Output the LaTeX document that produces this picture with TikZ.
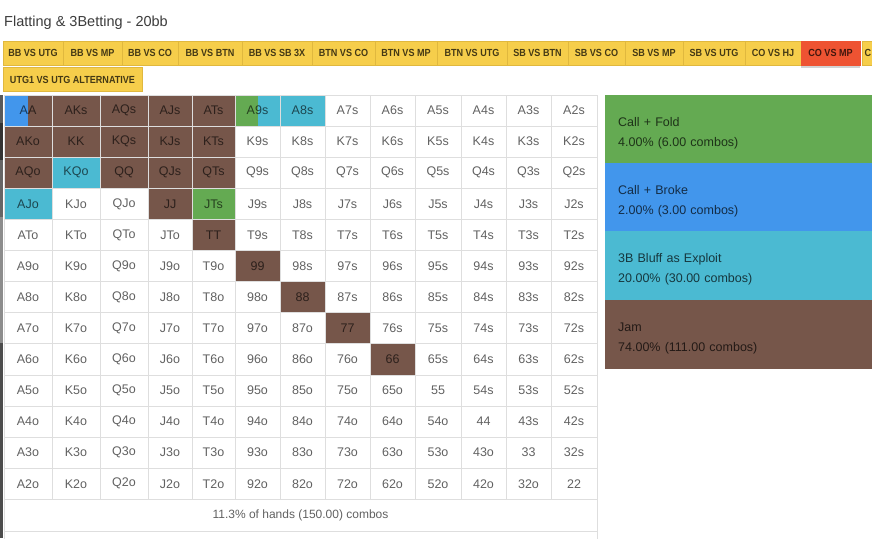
\documentclass[tikz,border=0pt]{standalone}
\usepackage{fontspec}
\setmainfont{Liberation Sans}
\newfontfamily\btnfont{Liberation Sans}[FakeStretch=0.88]
\usepackage{xcolor}
\usepackage{tikz}
\usetikzlibrary{shapes,shadows,calc,positioning}

\definecolor{btnYellow}{RGB}{246,206,75}
\definecolor{btnEdge}{RGB}{224,184,62}
\definecolor{btnRed}{RGB}{238,83,50}
\definecolor{jam}{RGB}{118,86,74}
\definecolor{callFold}{RGB}{100,170,82}
\definecolor{callBroke}{RGB}{66,150,236}
\definecolor{bluff}{RGB}{75,186,210}
\definecolor{gridLine}{RGB}{222,222,222}
\definecolor{titleGray}{RGB}{60,60,60}

\tikzset{
    cellbox/.style={draw=gridLine, line width=0.7pt, inner sep=0pt, outer sep=0pt,
                    text=black, text opacity=0.62, font=\fontsize{12.5}{14}\selectfont},
    btnbox/.style={fill=btnYellow, draw=btnEdge, line width=0.6pt, inner sep=0pt, outer sep=0pt,
                   minimum height=24pt, text=black, text opacity=0.72,
                   font=\btnfont\bfseries\fontsize{10.3}{12}\selectfont},
    legbox/.style={anchor=north west, minimum width=267pt, minimum height=68.5pt,
                   text width=241pt, inner xsep=13pt, inner ysep=0pt, align=left,
                   text=black, text opacity=0.7, font=\fontsize{12.5}{20}\selectfont}
}

\begin{document}
\begin{tikzpicture}[x=1pt, y=-1pt]
        \useasboundingbox (0,0) rectangle (872,538);
        \clip (0,0) rectangle (872,538);
        \fill[white] (0,0) rectangle (872,538);

        % Parameters
        \def\colx{{4,52,100,148,192,235,280,325,370,415,461,506,551,597}}  % column edges
        \def\rowh{31.1}       % height of a row
        \def\gridtop{95}      % top edge of the grid

        % Screen edge on the left
        \fill[black!65] (0,95) rectangle (2.7,123);
        \fill[black!80] (0,123) rectangle (2.7,160);
        \fill[black!60] (0,160) rectangle (2.7,217);
        \fill[black!45] (0,217) rectangle (2.7,343);
        \fill[black!70] (0,343) rectangle (2.7,538);

        % Title
        \node[anchor=base west, inner sep=0pt, text=titleGray,
              font=\fontsize{14.5}{17}\selectfont] (title) at (4,26) {Flatting \& 3Betting - 20bb};

        % Buttons, first row
        \foreach \xa/\xb/\txt [count=\n] in {3/63/BB VS UTG, 63/122/BB VS MP, 122/178/BB VS CO,
                178/242/BB VS BTN, 242/312/BB VS SB 3X, 312/375/BTN VS CO, 375/437/BTN VS MP,
                437/507/BTN VS UTG, 507/568/SB VS BTN, 568/625/SB VS CO, 625/683/SB VS MP,
                683/745/SB VS UTG, 745/801/CO VS HJ} {
            \pgfmathsetmacro{\w}{\xb-\xa}
            \node[btnbox, minimum width=\w pt] (btn\n) at ({(\xa+\xb)/2},53) {\txt};
        }
        \node[btnbox, minimum width=12pt] (btnNext) at (868,53) {C};
        \node[btnbox, fill=btnRed, draw=btnRed, minimum width=59pt,
              drop shadow={shadow xshift=0pt, shadow yshift=-3pt, opacity=0.35}] (btnCoMp) at (830.5,53) {CO VS MP};

        % Buttons, second row
        \node[btnbox, minimum width=139pt] (btnAlt) at (72.5,79.5) {UTG1 VS UTG ALTERNATIVE};

        % Coloured cells (row/column/colour/from/to)
        \foreach \ri/\ci/\col/\fa/\fb in {0/0/callBroke/0/0.5, 0/0/jam/0.5/1, 0/1/jam/0/1, 0/2/jam/0/1,
                0/3/jam/0/1, 0/4/jam/0/1, 0/5/callFold/0/0.5, 0/5/bluff/0.5/1, 0/6/bluff/0/1,
                1/0/jam/0/1, 1/1/jam/0/1, 1/2/jam/0/1, 1/3/jam/0/1, 1/4/jam/0/1,
                2/0/jam/0/1, 2/1/bluff/0/1, 2/2/jam/0/1, 2/3/jam/0/1, 2/4/jam/0/1,
                3/0/bluff/0/1, 3/3/jam/0/1, 3/4/callFold/0/1,
                4/4/jam/0/1, 5/5/jam/0/1, 6/6/jam/0/1, 7/7/jam/0/1, 8/8/jam/0/1} {
            \pgfmathsetmacro{\xl}{\colx[\ci]}
            \pgfmathsetmacro{\xr}{\colx[\ci+1]}
            \pgfmathsetmacro{\xa}{\xl+\fa*(\xr-\xl)}
            \pgfmathsetmacro{\xb}{\xl+\fb*(\xr-\xl)}
            \fill[\col] (\xa,{\gridtop+\ri*\rowh}) rectangle (\xb,{\gridtop+(\ri+1)*\rowh});
        }

        % Hand grid
        \foreach \ri/\rk in {0/A,1/K,2/Q,3/J,4/T,5/9,6/8,7/7,8/6,9/5,10/4,11/3,12/2} {
            \foreach \ci/\ck in {0/A,1/K,2/Q,3/J,4/T,5/9,6/8,7/7,8/6,9/5,10/4,11/3,12/2} {
                \ifnum\ri=\ci \def\lbl{\rk\rk}\else
                    \ifnum\ri<\ci \def\lbl{\rk\ck s}\else \def\lbl{\ck\rk o}\fi
                \fi
                \pgfmathsetmacro{\xl}{\colx[\ci]}
                \pgfmathsetmacro{\xr}{\colx[\ci+1]}
                \pgfmathsetmacro{\w}{\xr-\xl}
                \node[cellbox, minimum width=\w pt, minimum height=\rowh pt]
                    (c\ri-\ci) at ({(\xl+\xr)/2},{\gridtop+(\ri+0.5)*\rowh}) {\lbl};
            }
        }

        % Footer
        \node[cellbox, minimum width=593pt, minimum height=32pt,
              font=\fontsize{12}{14}\selectfont] (footer) at (300.5,515.3) {11.3\% of hands (150.00) combos};
        \draw[gridLine, line width=0.7pt] (footer.south west) -- ++(0,10);
        \draw[gridLine, line width=0.7pt] (footer.south east) -- ++(0,10);

        % Legend
        \foreach \y/\col/\name/\pct [count=\n] in {95/callFold/Call + Fold/4.00\% (6.00 combos),
                163/callBroke/Call + Broke/2.00\% (3.00 combos),
                231/bluff/3B Bluff as Exploit/20.00\% (30.00 combos),
                300/jam/Jam/74.00\% (111.00 combos)} {
            \node[legbox, fill=\col] (leg\n) at (605,\y) {\rule{0pt}{17pt}\name\\\pct};
        }

    \end{tikzpicture}
\end{document}
